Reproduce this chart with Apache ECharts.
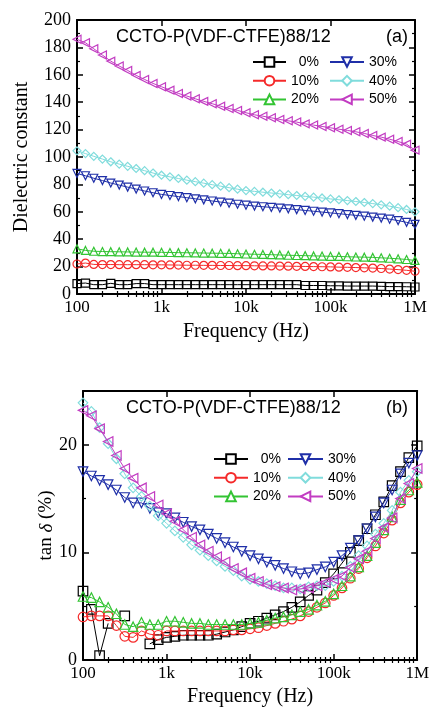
<!DOCTYPE html>
<html><head><meta charset="utf-8">
<script src="https://cdn.jsdelivr.net/npm/echarts@6/dist/echarts.min.js"></script>
<style>html,body{margin:0;padding:0;background:#fff}#c{width:432px;height:708px}</style>
</head><body><div id="c"></div>
<script>
// measurement frequencies (Hz), 10 per decade
const freq = [100,126,158,200,251,316,398,501,631,794,1000,1259,1585,1995,2512,3162,3981,5012,6310,7943,
  10000,12589,15849,19953,25119,31623,39811,50119,63096,79433,100000,125893,158489,199526,251189,316228,
  398107,501187,630957,794328,1000000];
const xMajorTicks = [100, 1000, 10000, 100000, 1000000];
const xTickLabels = ['100', '1k', '10k', '100k', '1M'];
const xMinorTicks = [200,300,400,500,600,700,800,900,2000,3000,4000,5000,6000,7000,8000,9000,
  20000,30000,40000,50000,60000,70000,80000,90000,200000,300000,400000,500000,600000,700000,800000,900000];
const seriesNames = ['0%', '10%', '20%', '30%', '40%', '50%'];
const titleText = 'CCTO-P(VDF-CTFE)88/12';

// panel (a): dielectric constant
const epsA0 = [7.6,8.0,6.8,6.8,7.8,6.8,6.8,7.6,7.6,6.8,6.8,6.8,6.8,6.8,6.8,6.8,6.8,6.8,6.8,6.8,6.8,6.8,6.8,6.8,6.8,6.8,6.8,6.2,6.2,6.2,6.0,6.0,5.8,5.8,5.8,5.8,5.6,5.4,5.4,5.3,5.1];
const epsA10 = [21.9,22.6,21.6,21.5,21.5,21.4,21.4,21.4,21.4,21.3,21.3,21.2,21.1,21.0,21.0,20.9,20.9,20.8,20.8,20.7,20.7,20.6,20.5,20.5,20.4,20.3,20.2,20.1,20.0,19.9,19.8,19.6,19.5,19.3,19.1,18.9,18.6,18.2,17.8,17.3,16.6];
const epsA20 = [33.0,31.8,31.2,31.0,30.9,30.8,30.7,30.6,30.5,30.5,30.4,30.3,30.2,30.1,30.0,29.9,29.8,29.7,29.6,29.4,29.2,29.0,28.9,28.7,28.5,28.3,28.1,28.0,27.8,27.7,27.5,27.4,27.2,27.0,26.9,26.7,26.4,26.1,25.7,25.2,24.5];
const epsA30 = [88.0,86.3,84.5,82.8,81.0,79.5,78.0,76.6,75.2,73.9,72.7,71.9,71.1,70.3,69.5,68.7,67.9,67.1,66.3,65.5,64.8,64.2,63.7,63.2,62.7,62.2,61.6,61.0,60.4,59.8,59.2,58.6,58.0,57.4,56.8,56.1,55.4,54.6,53.6,52.3,50.8];
const epsA40 = [104.5,102.5,100.5,98.5,96.5,94.8,93.2,91.6,90.0,88.3,86.7,85.5,84.3,83.1,82.0,80.9,79.8,78.7,77.6,76.5,75.5,74.9,74.3,73.7,73.1,72.5,71.9,71.3,70.7,70.1,69.4,68.8,68.2,67.5,66.8,66.0,65.1,64.1,63.0,61.7,60.0];
const epsA50 = [185.9,183.4,179.0,174.4,170.0,166.4,163.2,159.6,156.6,153.7,151.3,148.8,146.4,144.5,142.5,140.6,138.9,137.1,135.4,134.0,132.3,130.8,129.8,128.6,127.4,126.4,125.5,124.2,123.3,122.3,121.3,120.3,119.4,118.4,117.2,115.7,114.5,113.0,111.3,109.4,105.0];
const yTicksA = [0,20,40,60,80,100,120,140,160,180,200];
const yMinorA = [10,30,50,70,90,110,130,150,170,190];

// panel (b): tan delta (%)
const tanB0 = [6.4,4.7,0.4,3.4,null,4.1,null,null,1.5,1.9,2.1,2.2,2.3,2.3,2.3,2.3,2.4,2.6,2.8,3.1,3.4,3.6,3.9,4.2,4.5,4.9,5.4,6.0,6.5,7.2,8.0,9.0,10.0,11.1,12.2,13.5,14.7,16.2,17.5,18.8,19.9];
const tanB10 = [4.0,4.1,4.1,4.1,3.2,2.2,2.1,2.7,2.4,2.3,2.7,2.7,2.7,2.7,2.7,2.7,2.7,2.7,2.8,2.8,2.9,3.0,3.2,3.4,3.6,3.8,4.1,4.5,4.9,5.3,6.0,6.7,7.6,8.5,9.5,10.6,11.8,13.0,14.6,15.6,16.3];
const tanB20 = [5.9,5.8,5.4,4.9,4.3,3.3,3.1,3.5,3.3,3.3,3.6,3.6,3.5,3.4,3.4,3.3,3.3,3.3,3.3,3.3,3.4,3.5,3.7,3.9,4.0,4.2,4.5,4.7,5.1,5.45,6.15,6.9,7.8,8.65,9.7,10.9,12.1,13.3,14.9,15.8,16.5];
const tanB30 = [17.5,17.1,16.7,16.3,15.8,15.1,14.6,14.6,14.1,13.7,13.6,13.2,12.8,12.4,12.1,11.7,11.3,10.9,10.5,10.1,9.7,9.4,9.1,8.8,8.5,8.2,8.0,8.1,8.4,8.65,9.1,9.7,10.4,11.1,12.2,13.3,14.6,15.8,17.3,18.3,19.0];
const tanB40 = [23.9,23.1,21.6,20.1,18.7,17.3,16.0,15.2,14.3,13.4,12.7,12.0,11.4,10.7,10.2,9.7,9.2,8.7,8.3,7.8,7.5,7.3,7.1,6.9,6.7,6.7,6.6,6.8,6.9,6.9,7.3,7.8,8.7,9.7,10.6,11.7,12.7,13.9,15.6,16.7,17.5];
const tanB50 = [23.2,22.7,21.5,20.3,19.0,17.8,16.9,16.0,15.2,14.4,13.6,12.9,12.1,11.4,10.7,10.1,9.6,9.1,8.5,8.1,7.6,7.3,7.0,6.8,6.7,6.5,6.6,6.7,6.9,7.2,7.5,7.8,8.6,9.4,10.1,11.3,12.3,13.2,15.0,16.4,17.8];
const yTicksB = [0,10,20];
const yMinorB = [5,15];

const colors = ['#000000', '#f52a2a', '#33c433', '#1f2fa8', '#80dcdc', '#c23cc2'];
const symbols = ['rect', 'circle', 'triangle', 'triangle', 'diamond', 'triangle'];
const rotates = [0, 0, 0, 180, 0, 90];

const SERIF = '"Liberation Serif", "Times New Roman", serif';
const SANS = '"Liberation Sans", Arial, sans-serif';
const labelMap = {};
xMajorTicks.forEach((v, i) => { labelMap[v] = xTickLabels[i]; });

function xAxesFor(grid, nameGap) {
  const base = { type: 'log', logBase: 10, min: 100, max: 1000000, gridIndex: grid, splitLine: { show: false } };
  const line = { show: true, onZero: false, lineStyle: { color: '#000', width: 2 } };
  return [
    Object.assign({}, base, {
      position: 'bottom', axisLine: line,
      axisTick: { show: true, inside: true, length: 6, customValues: xMajorTicks, lineStyle: { color: '#000', width: 1.5 } },
      axisLabel: { show: true, customValues: xMajorTicks, formatter: v => labelMap[Math.round(v)] || '', fontFamily: SERIF, fontSize: 17, color: '#000', margin: 5 },
      name: 'Frequency (Hz)', nameLocation: 'middle', nameGap: nameGap, nameMoveOverlap: false,
      nameTextStyle: { fontFamily: SERIF, fontSize: 20, color: '#000' }
    }),
    Object.assign({}, base, {
      position: 'bottom', axisLine: { show: false },
      axisTick: { show: true, inside: true, length: 3, customValues: xMinorTicks, lineStyle: { color: '#000', width: 1.2 } },
      axisLabel: { show: false }
    }),
    Object.assign({}, base, {
      position: 'top', axisLine: line,
      axisTick: { show: true, inside: true, length: 6, customValues: xMajorTicks, lineStyle: { color: '#000', width: 1.5 } },
      axisLabel: { show: false }
    }),
    Object.assign({}, base, {
      position: 'top', axisLine: { show: false },
      axisTick: { show: true, inside: true, length: 3, customValues: xMinorTicks, lineStyle: { color: '#000', width: 1.2 } },
      axisLabel: { show: false }
    })
  ];
}

function yAxesFor(grid, max, major, minor, name, nameGap, nameStyle) {
  const base = { type: 'value', min: 0, max: max, gridIndex: grid, splitLine: { show: false } };
  const line = { show: true, onZero: false, lineStyle: { color: '#000', width: 2 } };
  return [
    Object.assign({}, base, {
      position: 'left', axisLine: line,
      axisTick: { show: true, inside: true, length: 6, customValues: major, lineStyle: { color: '#000', width: 1.5 } },
      axisLabel: { show: true, customValues: major, fontFamily: SERIF, fontSize: 18, color: '#000', margin: 6 },
      name: name, nameLocation: 'middle', nameGap: nameGap, nameRotate: 90, nameMoveOverlap: false,
      nameTextStyle: nameStyle
    }),
    Object.assign({}, base, {
      position: 'left', axisLine: { show: false },
      axisTick: { show: true, inside: true, length: 3, customValues: minor, lineStyle: { color: '#000', width: 1.2 } },
      axisLabel: { show: false }
    }),
    Object.assign({}, base, {
      position: 'right', axisLine: line,
      axisTick: { show: true, inside: true, length: 6, customValues: major, lineStyle: { color: '#000', width: 1.5 } },
      axisLabel: { show: false }
    }),
    Object.assign({}, base, {
      position: 'right', axisLine: { show: false },
      axisTick: { show: true, inside: true, length: 3, customValues: minor, lineStyle: { color: '#000', width: 1.2 } },
      axisLabel: { show: false }
    })
  ];
}

const dataA = [epsA0, epsA10, epsA20, epsA30, epsA40, epsA50];
const dataB = [tanB0, tanB10, tanB20, tanB30, tanB40, tanB50];

function makeSeries(arrs, axisIdx, size) {
  return arrs.map((arr, k) => ({
    name: seriesNames[k], type: 'line', xAxisIndex: axisIdx, yAxisIndex: axisIdx,
    data: freq.map((f, i) => [f, arr[i]]),
    symbol: symbols[k], symbolRotate: rotates[k], symbolSize: size,
    showAllSymbol: true, connectNulls: false,
    lineStyle: { color: colors[k], width: 1 },
    itemStyle: { color: 'rgba(255,255,255,0)', borderColor: colors[k], borderWidth: 1.2 },
    emphasis: { disabled: true }, silent: true, z: 2 + k
  }));
}

function legend(left, top, names, itemWidth) {
  return {
    left: left, top: top, orient: 'vertical', data: names, selectedMode: false,
    itemWidth: itemWidth, itemHeight: 12, itemGap: 2.7, padding: 0,
    itemStyle: { color: '#fff' },
    formatter: '{a|{name}}',
    textStyle: { fontFamily: SANS, fontSize: 14, color: '#000', lineHeight: 16,
      rich: { a: { width: 28, align: 'right', fontFamily: SANS, fontSize: 14, color: '#000' } } }
  };
}

const chart = echarts.init(document.getElementById('c'), null, { renderer: 'canvas' });
chart.setOption({
  animation: false,
  backgroundColor: '#fff',
  grid: [
    { left: 77, right: 17, top: 20, height: 274, containLabel: false },
    { left: 83, right: 14, top: 391, height: 271, containLabel: false }
  ],
  xAxis: xAxesFor(0, 28).concat(xAxesFor(1, 27)),
  yAxis: yAxesFor(0, 200, yTicksA, yMinorA, 'Dielectric constant', 45,
      { fontFamily: SERIF, fontSize: 20, color: '#000' })
    .concat(yAxesFor(1, 25, yTicksB, yMinorB, '{n|tan }{i|δ}{n| (%)}', 27,
      { fontFamily: SERIF, fontSize: 19, color: '#000',
        rich: { n: { fontFamily: SERIF, fontSize: 19, color: '#000' },
                i: { fontFamily: SERIF, fontSize: 19, fontStyle: 'italic', color: '#000' } } })),
  legend: [
    legend(252, 54, seriesNames.slice(0, 3), 33),
    legend(329, 54, seriesNames.slice(3), 34),
    legend(213, 451, seriesNames.slice(0, 3), 34),
    legend(287, 451, seriesNames.slice(3), 35)
  ],
  graphic: [
    { type: 'text', left: 116, top: 28, style: { text: titleText, font: '18px ' + SANS, fill: '#000' } },
    { type: 'text', left: 386, top: 28, style: { text: '(a)', font: '18px ' + SANS, fill: '#000' } },
    { type: 'text', left: 126, top: 399, style: { text: titleText, font: '18px ' + SANS, fill: '#000' } },
    { type: 'text', left: 386, top: 399, style: { text: '(b)', font: '18px ' + SANS, fill: '#000' } }
  ],
  series: makeSeries(dataA, 0, 8).concat(makeSeries(dataB, 4, 9.5))
});
</script></body></html>
